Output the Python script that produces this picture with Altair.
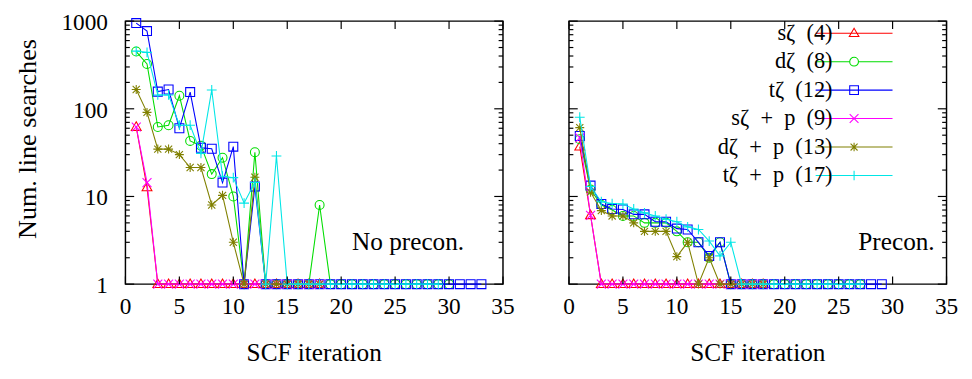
import altair as alt
import pandas as pd

FONT = "Liberation Serif"

series = ["s", "d", "t", "sp", "dp", "tp"]
legend_labels = ["sζ\u2002(4)", "dζ\u2002(8)", "tζ\u2002(12)",
                 "sζ\u2002+\u2002p\u2002(9)", "dζ\u2002+\u2002p\u2002(13)", "tζ\u2002+\u2002p\u2002(17)"]
legend_pad = "\u2003\u2002"
colors = ["#ff0000", "#00dd00", "#0000ff", "#ff00ff", "#808000", "#00e6e6"]

# marker shapes (unit box) for data points
shapes = [
    "M0,-1.15L1.1,0.75L-1.1,0.75Z",
    "circle",
    "square",
    "M-1,-1L1,1M-1,1L1,-1",
    "M-1,0L1,0M0,-1L0,1M-0.8,-0.8L0.8,0.8M-0.8,0.8L0.8,-0.8",
    "M-1.1,0L1.1,0M0,-1.1L0,1.1",
]
# legend samples: line + marker
legend_shapes = [
    "M-1.3,0L16.3,0M7.5,-1.15L8.6,0.75L6.4,0.75Z",
    "M-1.3,0L6.5,0M8.5,0L16.3,0M8.5,0A1,1,0,1,1,6.5,0A1,1,0,1,1,8.5,0",
    "M-1.3,0L16.3,0M6.5,-1L8.5,-1L8.5,1L6.5,1Z",
    "M-1.3,0L16.3,0M6.5,-1L8.5,1M6.5,1L8.5,-1",
    "M-1.3,0L16.3,0M7.5,-1L7.5,1M6.7,-0.8L8.3,0.8M6.7,0.8L8.3,-0.8",
    "M-1.3,0L16.3,0M7.5,-1.1L7.5,1.1",
]

# No preconditioner (left panel), values at SCF iteration 1, 2, 3, ...
left_s = [62, 12.7] + [1] * 16
left_d = [450, 325, 62, 65, 141, 43, 38, 18, 27.7, 10, 1, 32, 1, 1, 1, 1, 1, 8] + [1] * 12
left_t = [950, 770, 157, 166, 60, 155, 36, 35, 14.4, 37, 1, 13] + [1] * 21
left_sp = [62, 14.4] + [1] * 16
left_dp = [166, 91, 34.7, 34.7, 30, 21.4, 21.4, 8, 10.3, 3, 1, 16.6] + [1] * 6
left_tp = [455, 440, 144, 144, 65, 65, 31, 164, 17, 16.4, 8.4, 14.4, 1, 29] + [1] * 15

# Preconditioned (right panel)
right_s = [37, 6.1] + [1] * 16
right_d = [45, 12, 8, 7, 6, 6, 5, 5, 5, 4, 3, 3, 2, 3] + [1] * 13
right_t = [49, 13.3, 8.2, 7.2, 7.1, 6.25, 6.25, 5.15, 5.15, 4.3, 4.2, 3.0, 2.1, 3.0] + [1] * 15
right_sp = [46.6, 6.1] + [1] * 16
right_dp = [61, 11.2, 6.9, 6.0, 6.0, 5.0, 4.0, 4.0, 4.0, 2.06, 3, 1, 2, 1] + [1] * 4
right_tp = [80, 13, 8.7, 8.3, 8.2, 7.2, 6.5, 6, 5.5, 5.15, 4.5, 4.2, 3.1, 2.1, 3] + [1] * 12

x_ticks = [0, 5, 10, 15, 20, 25, 30, 35]
y_major = [1, 10, 100, 1000]
y_minor = [m * 10 ** k for k in range(3) for m in range(2, 10)]
x_title = "SCF iteration"
y_title = "Num. line searches"

W, H = 389, 271


def make_df(lists):
    rows = []
    for key, vals in zip(series, lists):
        for i, v in enumerate(vals):
            rows.append({"series": key, "x": i + 1, "v": v})
    return pd.DataFrame(rows)


left_df = make_df([left_s, left_d, left_t, left_sp, left_dp, left_tp])
right_df = make_df([right_s, right_d, right_t, right_sp, right_dp, right_tp])

xscale = alt.Scale(domain=[0, 35], nice=False, zero=False)
yscale = alt.Scale(type="log", domain=[1, 1000], nice=False)


def X(f="x"):
    return alt.X(f + ":Q", scale=xscale, axis=None)


def Y(f="v"):
    return alt.Y(f + ":Q", scale=yscale, axis=None)


def panel(df, show_y, note, note_x, with_legend):
    layers = []

    for key, col, shp in zip(series, colors, shapes):
        sub = df[df.series == key]
        layers.append(alt.Chart(sub).mark_line(color=col, strokeWidth=1.1, opacity=1).encode(
            x=X(), y=Y()))
        layers.append(alt.Chart(sub).mark_point(shape=shp, color=col, filled=False, size=85,
                                                strokeWidth=1.1, opacity=1).encode(
            x=X(), y=Y()))

    # tick marks drawn inward (positions through the scales)
    ymaj = pd.DataFrame({"v": y_major})
    ymin = pd.DataFrame({"v": y_minor})
    xt = pd.DataFrame({"x": x_ticks})
    for d, ln in ((ymaj, 9), (ymin, 4.5)):
        for x0, x1 in ((0, ln), (W - ln, W)):
            layers.append(alt.Chart(d).mark_rule(color="black", strokeWidth=1.2).encode(
                y=Y(), x=alt.value(x0), x2=alt.value(x1)))
    for y0, y1 in ((H - 8, H), (0, 8)):
        layers.append(alt.Chart(xt).mark_rule(color="black", strokeWidth=1.2).encode(
            x=X(), y=alt.value(y0), y2=alt.value(y1)))

    # tick labels and axis titles
    layers.append(alt.Chart(xt).mark_text(align="center", baseline="top", font=FONT,
                                          fontSize=24, color="black").encode(
        x=X(), y=alt.value(H + 11.5), text=alt.Text("x:Q", format="d")))
    layers.append(alt.Chart(pd.DataFrame({"t": [x_title]})).mark_text(
        align="center", baseline="top", font=FONT, fontSize=26, color="black").encode(
        x=alt.value(W / 2), y=alt.value(H + 58), text="t:N"))
    if show_y:
        layers.append(alt.Chart(ymaj).mark_text(align="right", baseline="middle", dy=2,
                                                font=FONT, fontSize=24, color="black").encode(
            y=Y(), x=alt.value(-18), text=alt.Text("v:Q", format="d")))
        layers.append(alt.Chart(pd.DataFrame({"t": [y_title]})).mark_text(
            align="center", baseline="alphabetic", angle=270, font=FONT, fontSize=27,
            color="black").encode(x=alt.value(-92), y=alt.value(121.5), text="t:N"))

    note_df = pd.DataFrame({"x": [note_x], "v": [3.0], "t": [note]})
    layers.append(alt.Chart(note_df).mark_text(align="right", baseline="middle", font=FONT,
                                               fontSize=26, color="black").encode(
        x=X(), y=Y(), text="t:N"))

    if with_legend:
        labels = [l + legend_pad for l in legend_labels]
        leg_df = df.copy()
        leg_df["label"] = leg_df["series"].map(dict(zip(series, labels)))
        legend = alt.Legend(orient="none", legendX=606, legendY=1, title=None,
                            labelAlign="right", labelOffset=0, symbolSize=81,
                            symbolStrokeWidth=1.1, labelFont=FONT, labelFontSize=23,
                            labelColor="black", rowPadding=5.3, padding=0, labelLimit=400,
                            symbolOffset=99.5)
        layers.append(alt.Chart(leg_df).transform_filter("false").mark_point(
            filled=False, opacity=1, size=81).encode(
            x=X(), y=Y(),
            color=alt.Color("label:N", scale=alt.Scale(domain=labels, range=colors),
                            legend=legend),
            shape=alt.Shape("label:N", scale=alt.Scale(domain=labels, range=legend_shapes),
                            legend=legend)))

    return alt.layer(*layers).properties(width=W, height=H)


left = panel(left_df, True, "No precon.", 31.4, False)
right = panel(right_df, False, "Precon.", 33.9, True)

chart = alt.hconcat(left, right, spacing=48).properties(
    padding={"left": 6, "top": -3, "right": 5, "bottom": 0}, background="white"
).configure(font=FONT).configure_view(stroke="black", strokeWidth=1.5).configure_legend(
    labelFont=FONT).configure_text(font=FONT)

chart.save("out.html", embed_options={"renderer": "svg", "actions": False})
